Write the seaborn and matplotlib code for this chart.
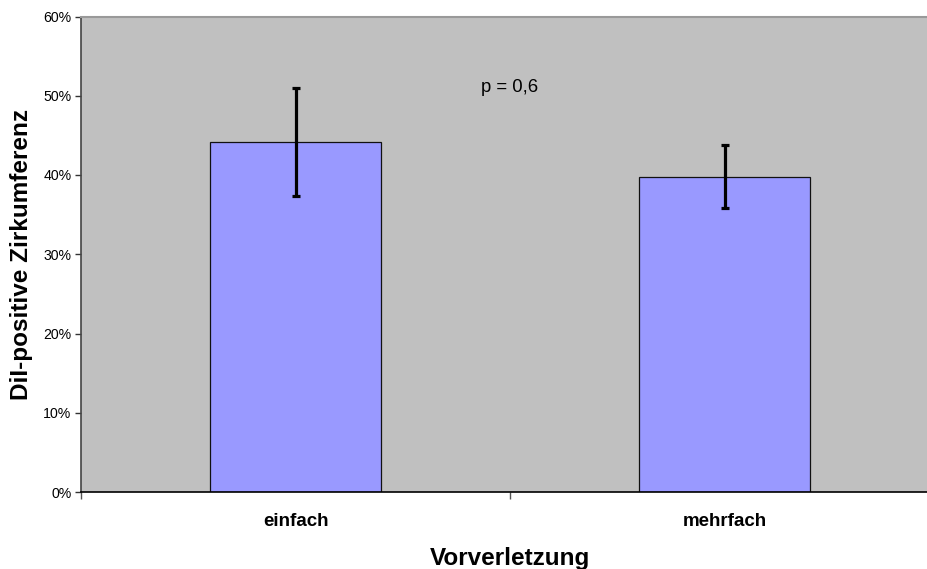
import matplotlib
matplotlib.use("Agg")
import matplotlib.pyplot as plt
import seaborn as sns
import pandas as pd
from matplotlib.ticker import PercentFormatter, FixedLocator

categories = ["einfach", "mehrfach"]
means = [44.2, 39.8]
errors = [6.8, 4.0]
y_ticks = [0, 10, 20, 30, 40, 50, 60]
p_text = "p = 0,6"

sns.set_theme(style="white")
plt.rcParams["font.family"] = ["Liberation Sans", "DejaVu Sans"]
plt.rcParams["text.color"] = "black"
plt.rcParams["axes.labelcolor"] = "black"

df = pd.DataFrame({"Vorverletzung": categories, "Wert": means})

fig = plt.figure(figsize=(9.27, 5.69), dpi=100)
ax = fig.add_axes([81 / 927, 1 - 492 / 569, (939 - 81) / 927, (492 - 16.5) / 569])
ax.set_facecolor("#c0c0c0")

sns.barplot(data=df, x="Vorverletzung", y="Wert", order=categories,
            color="#9999ff", saturation=1, width=0.4,
            edgecolor="#111111", linewidth=0.9, errorbar=None, ax=ax)
ax.errorbar(range(len(categories)), means, yerr=errors, fmt="none",
            ecolor="black", elinewidth=2.3, capsize=3.2, capthick=2.3, zorder=5)

ax.set_xlim(-0.5, 1.5)
ax.set_ylim(0, 60)
ax.yaxis.set_major_locator(FixedLocator(y_ticks))
ax.yaxis.set_major_formatter(PercentFormatter(decimals=0))
ax.tick_params(axis="y", direction="out", length=4, width=1, color="#333333",
               labelsize=10.2, pad=3, left=True, labelcolor="black")
ax.set_xticks([0, 1])
ax.set_xticks([-0.5, 0.5], minor=True)
ax.tick_params(axis="x", which="major", length=0, labelsize=13.5, pad=15,
               labelcolor="black")
ax.tick_params(axis="x", which="minor", direction="out", length=5, width=1,
               color="#555555", bottom=True)
for lbl in ax.get_xticklabels():
    lbl.set_fontweight("bold")

ax.set_xlabel("Vorverletzung", fontsize=17.5, fontweight="bold", labelpad=12,
              color="black")
ax.set_ylabel("DiI-positive Zirkumferenz", fontsize=17.5, fontweight="bold",
              labelpad=7, color="black")

for side in ["left", "bottom", "top", "right"]:
    ax.spines[side].set_visible(True)
ax.spines["left"].set_color("#444444")
ax.spines["left"].set_linewidth(1.2)
ax.spines["bottom"].set_color("black")
ax.spines["bottom"].set_linewidth(1.2)
ax.spines["top"].set_color("#999999")
ax.spines["top"].set_linewidth(1.5)
ax.spines["right"].set_visible(False)

ax.text(0.5, 51.1, p_text, ha="center", va="center", fontsize=13.3, color="black")

fig.savefig("out.png", dpi=100)
